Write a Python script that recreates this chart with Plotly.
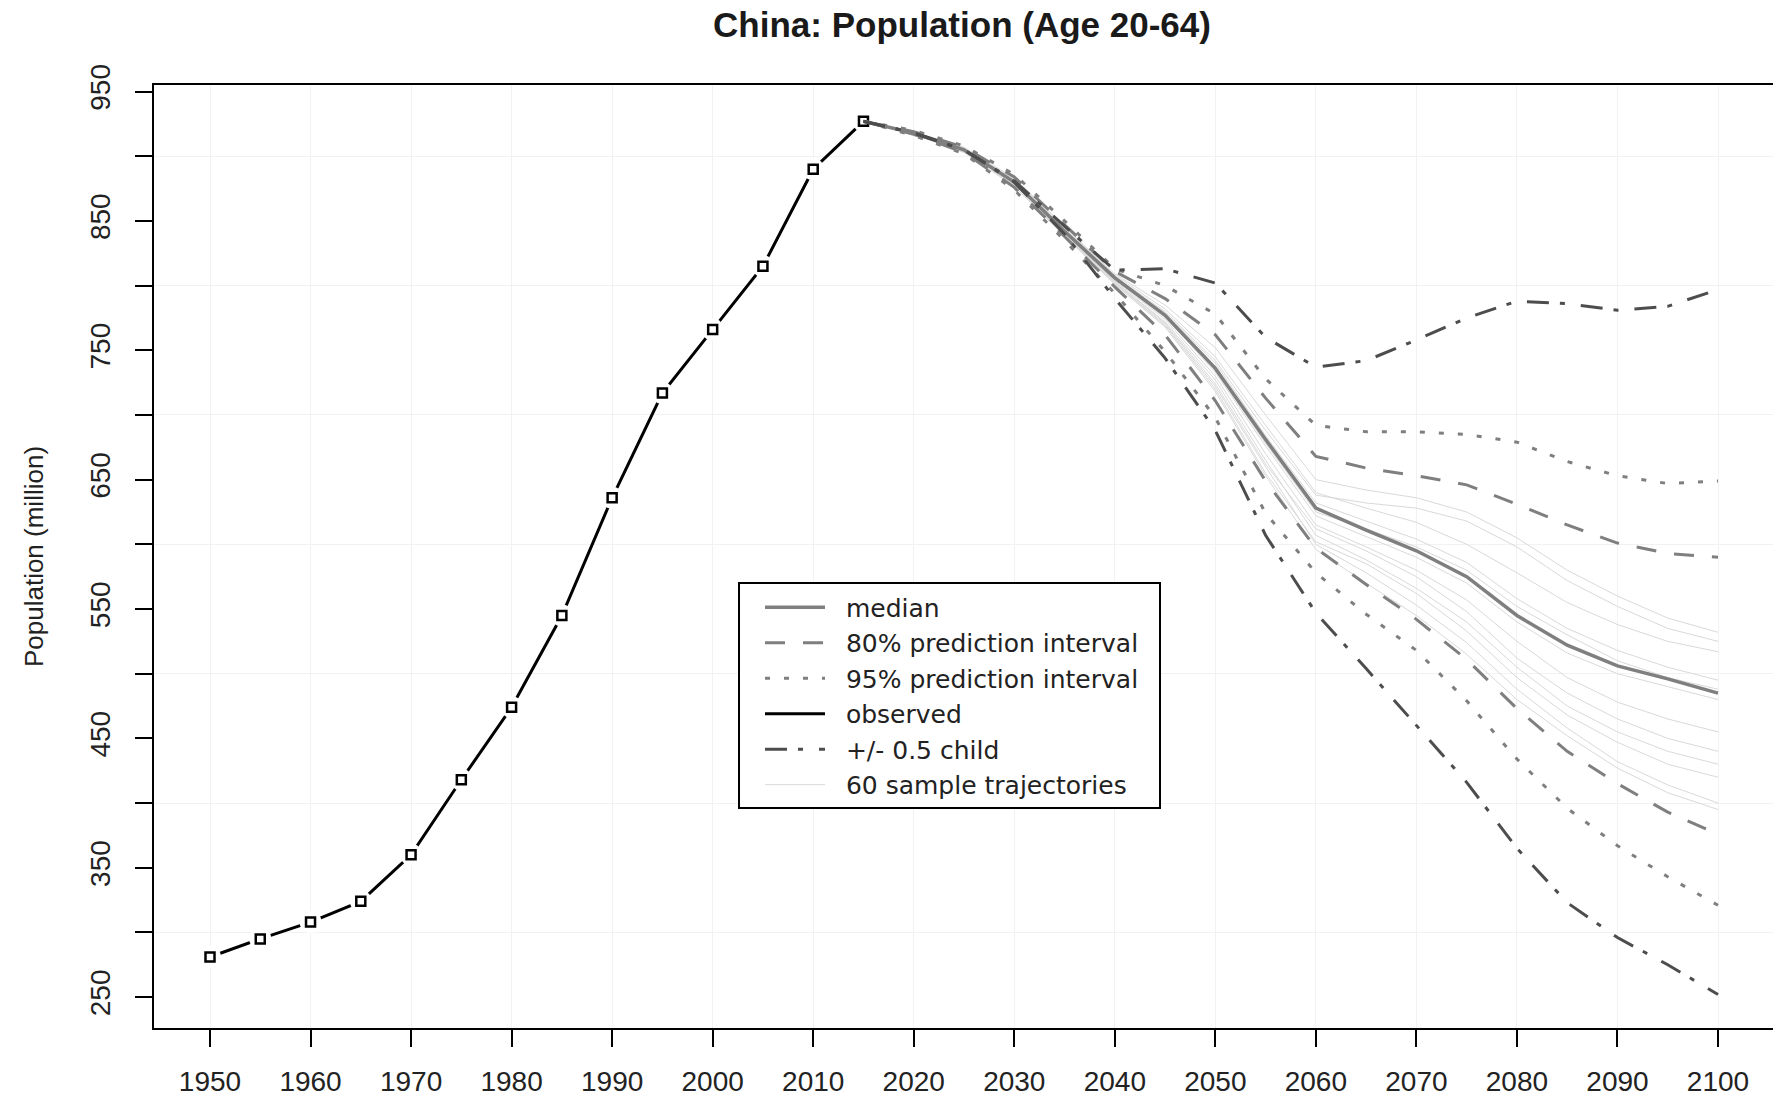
import plotly.graph_objects as go

# ---------------- data ----------------
obs_years = [1950, 1955, 1960, 1965, 1970, 1975, 1980, 1985, 1990, 1995, 2000, 2005, 2010, 2015]
observed = [281, 295, 308, 324, 360, 418, 474, 545, 636, 717, 766, 815, 890, 927]

proj_years = [2015, 2020, 2025, 2030, 2035, 2040, 2045, 2050, 2055, 2060,
              2065, 2070, 2075, 2080, 2085, 2090, 2095, 2100]
median = [927, 918, 905, 880, 842, 806, 777, 736, 681, 628, 611, 595, 575, 545, 522, 506, 496, 485]
pi80_up = [927, 919, 907, 884, 847, 811, 790, 762, 713, 668, 659, 653, 646, 631, 615, 601, 593, 590]
pi80_lo = [927, 917, 903, 876, 838, 799, 762, 711, 649, 597, 569, 542, 511, 473, 440, 415, 393, 376]
pi95_up = [927, 920, 908, 886, 850, 813, 800, 778, 728, 692, 687, 687, 685, 679, 664, 653, 647, 649]
pi95_lo = [927, 916, 902, 874, 835, 794, 749, 698, 624, 578, 546, 518, 479, 434, 396, 367, 343, 321]
child_up = [927, 918, 905, 881, 846, 812, 813, 802, 760, 737, 742, 758, 775, 788, 786, 781, 784, 797]
child_lo = [927, 918, 905, 880, 840, 790, 744, 688, 607, 547, 504, 460, 416, 365, 323, 296, 275, 252]

traj_1 = [927, 919, 906, 882, 845, 809, 785, 752, 700, 650, 642, 636, 625, 605, 580, 560, 543, 532]
traj_2 = [927, 918, 906, 881, 844, 808, 782, 745, 692, 640, 628, 617, 600, 578, 555, 538, 525, 517]
traj_3 = [927, 918, 905, 880, 843, 806, 779, 740, 684, 632, 618, 604, 586, 558, 535, 518, 505, 495]
traj_4 = [927, 918, 905, 880, 842, 805, 776, 733, 676, 622, 606, 590, 570, 540, 516, 500, 490, 480]
traj_5 = [927, 917, 904, 879, 841, 804, 774, 730, 670, 615, 598, 580, 557, 525, 497, 478, 465, 455]
traj_6 = [927, 917, 904, 878, 840, 803, 772, 727, 665, 607, 588, 566, 540, 505, 475, 455, 440, 430]
traj_7 = [927, 917, 903, 877, 839, 802, 770, 722, 660, 600, 578, 553, 524, 488, 458, 432, 414, 400]
traj_8 = [927, 917, 903, 877, 838, 801, 768, 718, 653, 596, 570, 545, 515, 480, 452, 427, 408, 395]
traj_9 = [927, 919, 907, 883, 846, 807, 780, 742, 688, 638, 632, 628, 618, 598, 572, 552, 535, 525]
traj_10 = [927, 918, 904, 879, 841, 803, 771, 724, 662, 612, 595, 575, 548, 512, 485, 465, 450, 440]
traj_11 = [927, 918, 905, 881, 843, 805, 777, 735, 678, 625, 612, 598, 580, 552, 530, 510, 497, 488]
traj_12 = [927, 917, 904, 878, 840, 802, 769, 720, 655, 602, 585, 562, 533, 497, 468, 447, 430, 420]
trajectories = [traj_1, traj_2, traj_3, traj_4, traj_5, traj_6,
                traj_7, traj_8, traj_9, traj_10, traj_11, traj_12]

x_ticks = list(range(1950, 2101, 10))
y_major = list(range(250, 951, 100))
y_minor = list(range(300, 901, 100))

legend_names = ["median", "80% prediction interval", "95% prediction interval",
                "observed", "+/- 0.5 child", "60 sample trajectories"]

# ---------------- figure ----------------
fig = go.Figure()

GRAY = "#7f7f7f"
CHILD = "#4d4d4d"
TRAJ = "#d9d9d9"
PAD = "\u00a0\u00a0"
TAIL = "\u00a0\u00a0"


def lab(k):
    return PAD + legend_names[k] + TAIL


# observed (type "b": line broken around the points)
fig.add_trace(go.Scatter(
    x=obs_years, y=observed, mode="lines",
    line=dict(color="black", width=3),
    name=lab(3), legendgroup="obs", legendrank=4))
fig.add_trace(go.Scatter(
    x=obs_years, y=observed, mode="markers",
    marker=dict(symbol="circle", size=22, color="white", line=dict(width=0)),
    name=legend_names[3], legendgroup="obs", showlegend=False, hoverinfo="skip"))
fig.add_trace(go.Scatter(
    x=obs_years, y=observed, mode="markers",
    marker=dict(symbol="square-open", size=9, color="black", line=dict(width=2.5)),
    name=legend_names[3], legendgroup="obs", showlegend=False))

for i, t in enumerate(trajectories):
    fig.add_trace(go.Scatter(
        x=proj_years, y=t, mode="lines",
        line=dict(color=TRAJ, width=1),
        name=lab(5), legendgroup="traj",
        showlegend=(i == 0), legendrank=6, hoverinfo="skip"))

for j, ys in enumerate([pi80_up, pi80_lo]):
    fig.add_trace(go.Scatter(
        x=proj_years, y=ys, mode="lines",
        line=dict(color=GRAY, width=3, dash="20px,18px"),
        name=lab(1), legendgroup="pi80",
        showlegend=(j == 0), legendrank=2))

for j, ys in enumerate([pi95_up, pi95_lo]):
    fig.add_trace(go.Scatter(
        x=proj_years, y=ys, mode="lines",
        line=dict(color=GRAY, width=3, dash="5px,14px"),
        name=lab(2), legendgroup="pi95",
        showlegend=(j == 0), legendrank=3))

fig.add_trace(go.Scatter(
    x=proj_years, y=median, mode="lines",
    line=dict(color=GRAY, width=3.5),
    name=lab(0), legendrank=1))

for j, ys in enumerate([child_up, child_lo]):
    fig.add_trace(go.Scatter(
        x=proj_years, y=ys, mode="lines",
        line=dict(color=CHILD, width=3, dash="22px,11px,5px,16px"),
        name=lab(4), legendgroup="child",
        showlegend=(j == 0), legendrank=5))

FONT = "Liberation Sans, Arial, sans-serif"

fig.update_layout(
    width=1773, height=1097,
    margin=dict(l=154, r=0, t=85, b=66),
    paper_bgcolor="white", plot_bgcolor="white",
    font=dict(family=FONT, size=28, color="#222222"),
    title=dict(text="<b>China: Population (Age 20-64)</b>",
               x=962 / 1773, xref="container", xanchor="center",
               y=1 - 25 / 1097, yref="container", yanchor="middle",
               font=dict(family=FONT, size=35, color="#1a1a1a")),
    showlegend=True,
    legend=dict(x=(738 - 154) / 1619, y=(1031 - 584) / 946,
                xanchor="left", yanchor="top",
                bgcolor="white", bordercolor="black", borderwidth=2,
                font=dict(family="DejaVu Sans, sans-serif", size=25, color="#222222"),
                tracegroupgap=0, itemwidth=60, traceorder="normal",
                indentation=20),
)

fig.update_xaxes(
    range=[1944.43, 2105.47], tickmode="array", tickvals=x_ticks,
    ticks="outside", ticklen=17, tickwidth=2, tickcolor="black",
    showline=True, linecolor="black", linewidth=2, mirror=True,
    showgrid=True, gridcolor="#f2f2f2", gridwidth=1,
    zeroline=False, ticklabelstandoff=10,
    tickfont=dict(family=FONT, size=28, color="#222222"),
)
fig.update_yaxes(
    range=[226.11, 955.09], tickmode="array", tickvals=y_major,
    ticks="outside", ticklen=17, tickwidth=2, tickcolor="black",
    tickangle=-90,
    showline=True, linecolor="black", linewidth=2, mirror=False,
    showgrid=False, zeroline=False, ticklabelstandoff=14,
    minor=dict(tickmode="array", tickvals=y_minor, ticks="outside",
               ticklen=17, tickwidth=2, tickcolor="black",
               showgrid=True, gridcolor="#f2f2f2", gridwidth=1),
    tickfont=dict(family=FONT, size=28, color="#222222"),
    title=dict(text="Population (million)", standoff=34,
               font=dict(family=FONT, size=26, color="#222222")),
)

fig.write_html("out.html")
